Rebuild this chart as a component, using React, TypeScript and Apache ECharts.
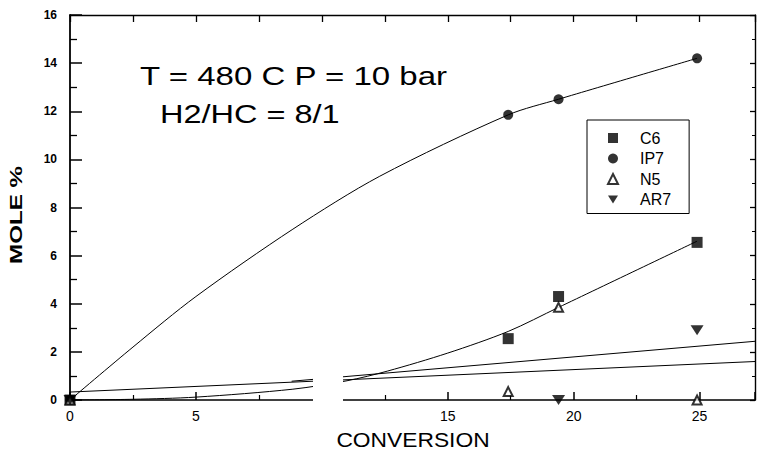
import React, { useEffect, useRef } from "react";
import * as echarts from "echarts";

// ---- data ----
const c6X = [0, 17.4, 19.4, 24.9];
const c6Y = [0, 2.55, 4.3, 6.55];
const ip7X = [0, 17.4, 19.4, 24.9];
const ip7Y = [0, 11.85, 12.5, 14.2];
const n5X = [0, 17.4, 19.4, 24.9];
const n5Y = [0, 0.35, 3.85, 0];
const ar7X = [0, 19.4, 24.9];
const ar7Y = [0, 0, 2.9];

// fitted curves as drawn in the reference
const ip7FitX = [0, 2.5, 5, 8.85, 12.3, 17.4, 19.4, 24.9];
const ip7FitY = [0, 2.2, 4.3, 7.1, 9.3, 11.85, 12.5, 14.2];
const c6FitX = [0, 2.5, 5, 8.85, 11, 12.6, 15, 17.4, 19.4, 24.9];
const c6FitY = [0, 0.03, 0.12, 0.45, 0.8, 1.2, 1.95, 2.85, 3.85, 6.6];
const lineAX = [0, 27.2];
const lineAY = [0.33, 1.6];
const lineBX = [8.8, 27.2];
const lineBY = [0.78, 2.44];

// axes
const xMin = 0;
const xMax = 27.2;
const xStep = 5;
const yMin = 0;
const yMax = 16;
const yStep = 2;
const hiddenXLabels = [10];

const legendNames = ["C6", "IP7", "N5", "AR7"];
const annotation1 = "T = 480 C P = 10 bar";
const annotation2 = "H2/HC = 8/1";
const xTitle = "CONVERSION";
const yTitle = "MOLE %";

const pts = (xs: number[], ys: number[]) => xs.map((x, i) => [x, ys[i]]);

const FONT = "Liberation Sans, Arial, sans-serif";

export default function App() {
  const ref = useRef<HTMLDivElement>(null);
  useEffect(() => {
    if (!ref.current) return;
    const chart = echarts.init(ref.current, null, { renderer: "svg" });
    const fitLine = (name: string, xs: number[], ys: number[], smooth: number | boolean) => ({
      name,
      type: "line",
      data: pts(xs, ys),
      smooth,
      showSymbol: false,
      symbol: "none",
      lineStyle: { color: "#000", width: 1 },
      itemStyle: { color: "#000" },
      z: 2,
      silent: true,
    });
    const option: any = {
      animation: false,
      backgroundColor: "#fff",
      textStyle: { fontFamily: FONT, color: "#000" },
      grid: { left: 70, top: 15, right: 2, bottom: 57, containLabel: false },
      xAxis: [
        {
          type: "value",
          min: xMin,
          max: xMax,
          interval: xStep,
          position: "bottom",
          axisLine: { onZero: false, lineStyle: { color: "#000", width: 1.6 } },
          axisTick: { inside: true, length: 8, lineStyle: { color: "#000", width: 1.5 } },
          minorTick: { show: true, splitNumber: 2, length: 5, lineStyle: { color: "#000", width: 1.2 } },
          splitLine: { show: false },
          axisLabel: {
            color: "#000",
            fontSize: 14,
            fontFamily: FONT,
            margin: 9,
            showMaxLabel: false,
            formatter: (v: number) => (hiddenXLabels.includes(v) ? "" : String(v)),
          },
        },
        {
          type: "value",
          min: xMin,
          max: xMax,
          interval: xStep / 2,
          position: "top",
          axisLine: { onZero: false, lineStyle: { color: "#000", width: 1.4 } },
          axisTick: { inside: true, length: 7, lineStyle: { color: "#000", width: 1.3 } },
          splitLine: { show: false },
          axisLabel: { show: false },
        },
      ],
      yAxis: [
        {
          type: "value",
          min: yMin,
          max: yMax,
          interval: yStep,
          position: "left",
          axisLine: { onZero: false, lineStyle: { color: "#000", width: 1.8 } },
          axisTick: { inside: true, length: 12, lineStyle: { color: "#000", width: 1.5 } },
          minorTick: { show: true, splitNumber: 2, length: 7, lineStyle: { color: "#000", width: 1.3 } },
          splitLine: { show: false },
          axisLabel: { color: "#000", fontSize: 12, fontWeight: "bold", fontFamily: FONT, margin: 13 },
        },
        {
          type: "value",
          min: yMin,
          max: yMax,
          interval: yStep,
          position: "right",
          axisLine: { onZero: false, lineStyle: { color: "#000", width: 1.4 } },
          axisTick: { inside: true, length: 5, lineStyle: { color: "#000", width: 1.3 } },
          minorTick: { show: true, splitNumber: 2, length: 3, lineStyle: { color: "#000", width: 1 } },
          splitLine: { show: false },
          axisLabel: { show: false },
        },
      ],
      legend: {
        data: legendNames,
        orient: "vertical",
        left: 587,
        top: 120,
        padding: [10, 18, 6, 20],
        itemGap: 4.5,
        itemWidth: 10,
        itemHeight: 10,
        borderColor: "#000",
        borderWidth: 1,
        backgroundColor: "#fff",
        textStyle: { fontSize: 16, lineHeight: 15, color: "#000", fontFamily: FONT, padding: [0, 0, 0, 17] },
      },
      graphic: [
        {
          type: "rect",
          z: 100,
          shape: { x: 313, y: 366, width: 30, height: 40 },
          style: { fill: "#fff" },
          silent: true,
        },
        {
          type: "text",
          x: 140,
          y: 76,
          scaleX: 1.27,
          z: 50,
          style: {
            text: annotation1,
            font: `26px ${FONT}`,
            fill: "#000",
            textAlign: "left",
            textVerticalAlign: "middle",
          },
        },
        {
          type: "text",
          x: 160,
          y: 114,
          scaleX: 1.25,
          z: 50,
          style: {
            text: annotation2,
            font: `26px ${FONT}`,
            fill: "#000",
            textAlign: "left",
            textVerticalAlign: "middle",
          },
        },
        {
          type: "text",
          x: 413,
          y: 440,
          scaleX: 1.14,
          z: 50,
          style: {
            text: xTitle,
            font: `20px ${FONT}`,
            fill: "#000",
            textAlign: "center",
            textVerticalAlign: "middle",
          },
        },
        {
          type: "text",
          x: 16,
          y: 215,
          rotation: Math.PI / 2,
          scaleX: 1.42,
          z: 50,
          style: {
            text: yTitle,
            font: `bold 17px ${FONT}`,
            fill: "#000",
            textAlign: "center",
            textVerticalAlign: "middle",
          },
        },
      ],
      series: [
        fitLine("IP7 fit", ip7FitX, ip7FitY, 0.3),
        fitLine("C6 fit", c6FitX, c6FitY, 0.3),
        fitLine("line A", lineAX, lineAY, false),
        fitLine("line B", lineBX, lineBY, false),
        {
          name: "C6",
          type: "scatter",
          data: pts(c6X, c6Y),
          symbol: "rect",
          symbolSize: 11,
          itemStyle: { color: "#000" },
          clip: false,
          z: 5,
        },
        {
          name: "IP7",
          type: "scatter",
          data: pts(ip7X, ip7Y),
          symbol: "circle",
          symbolSize: 10,
          itemStyle: { color: "#000" },
          clip: false,
          z: 5,
        },
        {
          name: "N5",
          type: "scatter",
          data: pts(n5X, n5Y),
          symbol: "emptyTriangle",
          symbolSize: 9,
          itemStyle: { color: "#000", borderColor: "#000", borderWidth: 1.5 },
          clip: false,
          z: 5,
        },
        {
          name: "AR7",
          type: "scatter",
          data: pts(ar7X, ar7Y),
          symbol: "path://M0,0L10,0L5,8Z",
          symbolSize: [13, 10],
          itemStyle: { color: "#000" },
          clip: false,
          z: 5,
        },
      ],
    };
    chart.setOption(option);
    return () => chart.dispose();
  }, []);
  return (
    <div
      ref={ref}
      style={{ position: "fixed", left: 0, top: 0, width: 757, height: 457, background: "#fff" }}
    />
  );
}
